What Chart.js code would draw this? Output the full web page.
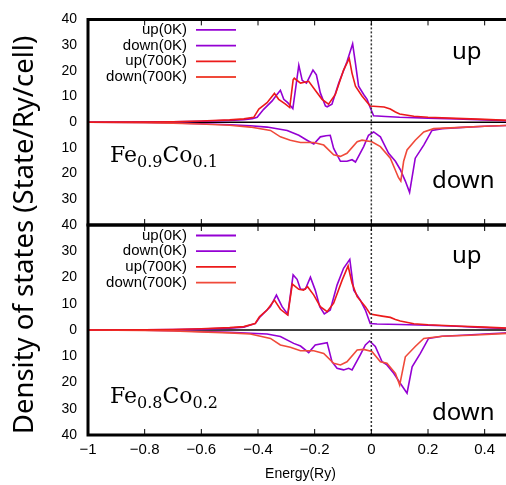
<!DOCTYPE html>
<html><head><meta charset="utf-8">
<script src="https://cdn.jsdelivr.net/npm/chart.js@4/dist/chart.umd.min.js"></script>
<style>
html,body{margin:0;padding:0;background:#fff;overflow:hidden;}
#wrap{position:relative;width:506px;height:485px;overflow:hidden;background:#fff;}
canvas{position:absolute;left:0;top:0;}
</style></head><body>
<div id="wrap"><canvas id="c1" width="520" height="485"></canvas><canvas id="c2" width="520" height="485"></canvas></div>
<script>
// ---------- tick labels / names ----------
const xTickVals = [-1, -0.8, -0.6, -0.4, -0.2, 0, 0.2, 0.4];
const yTickVals = [-40, -30, -20, -10, 0, 10, 20, 30, 40];
const seriesNames = ['up(0K)', 'down(0K)', 'up(700K)', 'down(700K)'];
const seriesColors = ['#9400d3', '#9400d3', '#ec1a1a', '#f04a3a'];
const panelNames = [['Fe','0.9','Co','0.1'], ['Fe','0.8','Co','0.2']];

// ---------- Fe0.9Co0.1 ----------
const a_up0_E = [-1,-0.8,-0.7,-0.6,-0.5,-0.45,-0.42,-0.403,-0.38,-0.35,-0.335,-0.321,-0.309,-0.295,-0.277,-0.256,-0.244,-0.229,-0.206,-0.194,-0.18,-0.162,-0.156,-0.139,-0.115,-0.086,-0.066,-0.056,-0.045,-0.027,-0.015,-0.004,0.008,0.05,0.1,0.2,0.3,0.4,0.5];
const a_up0_V = [0,0.05,0.15,0.35,0.7,1.0,1.4,1.9,5.0,8.3,10.5,12.4,8.9,7.6,5.3,22.2,16.3,15.2,20.3,18.4,11.4,6.3,6.0,7.0,15.2,23.5,30.5,22.9,14.0,10.8,8.9,5.7,2.5,2.2,1.9,1.6,1.3,0.9,0.5];
const a_dn0_E = [-1,-0.8,-0.7,-0.603,-0.5,-0.427,-0.368,-0.297,-0.256,-0.227,-0.203,-0.18,-0.16,-0.145,-0.133,-0.109,-0.086,-0.068,-0.056,-0.027,-0.01,0.008,0.032,0.061,0.085,0.102,0.12,0.135,0.155,0.185,0.214,0.25,0.338,0.4,0.5];
const a_dn0_V = [0,-0.1,-0.3,-0.6,-1.0,-1.4,-1.9,-3.2,-5.1,-7.0,-8.5,-5.7,-5.3,-5.1,-10.2,-15.2,-15.2,-14.6,-15.5,-9.5,-5.1,-3.8,-5.7,-12.1,-15.2,-18.4,-22.9,-27.3,-14.0,-8.9,-3.2,-2.5,-1.9,-1.6,-1.2];
const a_up7_E = [-1,-0.8,-0.7,-0.6,-0.5,-0.45,-0.415,-0.397,-0.368,-0.342,-0.327,-0.303,-0.288,-0.276,-0.272,-0.25,-0.221,-0.198,-0.174,-0.151,-0.127,-0.098,-0.078,-0.068,-0.056,-0.033,-0.004,0.02,0.045,0.067,0.085,0.10,0.15,0.2,0.3,0.4,0.5];
const a_up7_V = [0,0.08,0.2,0.45,0.9,1.3,1.9,5.1,7.6,11.2,8.9,7.0,5.7,16.5,17.1,15.2,15.9,12.4,8.9,7.0,10.8,20.3,24.8,19.0,14.0,10.2,6.3,6.1,5.9,5.1,4.0,3.2,2.3,1.9,1.5,1.1,0.6];
const a_dn7_E = [-1,-0.8,-0.7,-0.603,-0.5,-0.427,-0.356,-0.321,-0.286,-0.25,-0.203,-0.168,-0.133,-0.109,-0.086,-0.05,-0.033,0.002,0.032,0.067,0.096,0.104,0.114,0.126,0.155,0.185,0.22,0.3,0.4,0.5];
const a_dn7_V = [0,-0.15,-0.35,-0.7,-1.2,-1.9,-3.2,-5.7,-7.0,-7.9,-7.9,-8.9,-12.7,-13.3,-12.1,-7.6,-7.0,-7.6,-9.5,-14.0,-21.6,-22.9,-15.2,-10.8,-7.0,-3.8,-2.5,-2.1,-1.6,-1.2];

// ---------- Fe0.8Co0.2 ----------
const b_up0_E = [-1,-0.8,-0.7,-0.6,-0.5,-0.45,-0.409,-0.392,-0.356,-0.335,-0.315,-0.295,-0.276,-0.262,-0.25,-0.233,-0.215,-0.198,-0.182,-0.166,-0.145,-0.121,-0.098,-0.076,-0.062,-0.039,-0.021,-0.004,0.02,0.1,0.2,0.3,0.4,0.5];
const b_up0_V = [0,0.05,0.15,0.35,0.7,1.1,2.5,5.1,8.9,13.3,8.9,6.0,21.0,19.3,15.5,15.5,20.1,15.2,8.9,6.1,7.6,17.1,23.5,26.9,15.2,11.4,7.6,2.5,2.3,2.1,1.8,1.4,0.9,0.5];
const b_dn0_E = [-1,-0.8,-0.7,-0.603,-0.5,-0.368,-0.321,-0.274,-0.25,-0.221,-0.198,-0.156,-0.139,-0.121,-0.098,-0.08,-0.068,-0.039,-0.021,-0.006,0.014,0.038,0.055,0.079,0.102,0.126,0.144,0.173,0.202,0.25,0.338,0.4,0.5];
const b_dn0_V = [0,-0.1,-0.3,-0.6,-0.9,-1.5,-2.5,-5.1,-6.1,-8.6,-5.7,-4.8,-12.1,-14.6,-15.2,-14.6,-15.2,-9.5,-5.7,-4.2,-6.3,-12.1,-13.3,-16.5,-20.3,-24.1,-14.0,-8.9,-3.2,-2.4,-1.9,-1.5,-1.0];
const b_up7_E = [-1,-0.8,-0.7,-0.6,-0.5,-0.45,-0.41,-0.395,-0.368,-0.342,-0.321,-0.295,-0.279,-0.256,-0.239,-0.225,-0.203,-0.18,-0.156,-0.133,-0.103,-0.082,-0.068,-0.05,-0.021,-0.004,0.038,0.067,0.085,0.102,0.15,0.2,0.3,0.4,0.5];
const b_up7_V = [0,0.08,0.2,0.45,0.9,1.3,2.5,5.0,7.6,11.4,7.9,5.7,17.5,15.5,15.2,16.5,13.3,8.9,7.0,10.2,19.0,24.4,17.8,12.7,8.9,6.1,5.3,4.8,4.0,3.4,2.4,2.0,1.5,1.1,0.6];
const b_dn7_E = [-1,-0.8,-0.7,-0.603,-0.5,-0.427,-0.356,-0.321,-0.286,-0.25,-0.203,-0.168,-0.133,-0.109,-0.086,-0.05,-0.027,0.002,0.032,0.055,0.085,0.10,0.12,0.155,0.185,0.25,0.35,0.5];
const b_dn7_V = [0,-0.15,-0.35,-0.7,-1.1,-1.5,-3.2,-5.7,-6.6,-7.9,-7.9,-8.9,-12.7,-13.3,-12.1,-7.6,-7.4,-8.2,-12.1,-12.7,-16.5,-21.0,-10.2,-6.3,-3.2,-2.4,-2.0,-1.2];

function pts(E, V) { return E.map((e, i) => ({x: e, y: V[i]})); }
function mkDs(list) {
  return list.map((p, i) => ({
    label: seriesNames[i], data: pts(p[0], p[1]),
    borderColor: seriesColors[i], borderWidth: 1.6, pointRadius: 0,
    fill: false, tension: 0, order: i < 2 ? 2 : 1
  }));
}
function fmt(v) { const r = Math.round(v * 10) / 10; return r < 0 ? '\u2212' + Math.abs(r) : String(r); }

function drawChem(ctx, x, y, parts) {
  ctx.save();
  ctx.fillStyle = '#000';
  ctx.textAlign = 'left'; ctx.textBaseline = 'alphabetic';
  parts.forEach((t, i) => {
    const sub = i % 2 === 1;
    ctx.font = sub ? '16px "DejaVu Serif"' : '22px "DejaVu Serif"';
    ctx.fillText(t, x, sub ? y + 5 : y);
    x += ctx.measureText(t).width;
  });
  ctx.restore();
}

const panelDeco = {
  id: 'panelDeco',
  beforeDatasetsDraw(chart) {
    const {ctx, chartArea: a, scales: {y}} = chart;
    const y0 = y.getPixelForValue(0);
    ctx.save();
    ctx.strokeStyle = '#000'; ctx.lineWidth = 1.5;
    ctx.beginPath(); ctx.moveTo(a.left, y0); ctx.lineTo(a.right, y0); ctx.stroke();
    ctx.restore();
  },
  afterDatasetsDraw(chart) {
    const {ctx, chartArea: a, scales: {x}} = chart;
    const x0 = x.getPixelForValue(0);
    ctx.save();
    ctx.setLineDash([2, 2]); ctx.strokeStyle = '#333'; ctx.lineWidth = 1.5;
    ctx.beginPath(); ctx.moveTo(x0, a.top); ctx.lineTo(x0, a.bottom); ctx.stroke();
    ctx.restore();
  },
  afterDraw(chart, args, o) {
    const {ctx, chartArea: a, scales: {x}} = chart;
    ctx.save();
    // frame
    ctx.strokeStyle = '#000'; ctx.lineWidth = 3;
    ctx.beginPath();
    ctx.moveTo(a.right + 5, a.top); ctx.lineTo(a.left, a.top); ctx.lineTo(a.left, a.bottom); ctx.lineTo(a.right + 5, a.bottom);
    ctx.stroke();
    // inward x ticks
    ctx.lineWidth = 1;
    xTickVals.forEach(v => {
      const px = x.getPixelForValue(v);
      ctx.beginPath(); ctx.moveTo(px, a.top); ctx.lineTo(px, a.top + 6);
      ctx.moveTo(px, a.bottom); ctx.lineTo(px, a.bottom - 6); ctx.stroke();
    });
    // legend
    ctx.font = '15px "Liberation Sans"';
    ctx.textAlign = 'right'; ctx.textBaseline = 'middle'; ctx.fillStyle = '#000';
    seriesNames.forEach((n, i) => {
      const yy = a.top + 10.5 + i * 15.7;
      ctx.fillText(n, 187, yy);
      ctx.strokeStyle = seriesColors[i]; ctx.lineWidth = 1.8;
      ctx.beginPath(); ctx.moveTo(196, yy); ctx.lineTo(236, yy); ctx.stroke();
    });
    // up / down
    ctx.font = '24px "Noto Sans"'; ctx.textAlign = 'left'; ctx.textBaseline = 'alphabetic';
    ctx.fillText('up', 452, a.top + o.upY);
    ctx.fillText('down', 432, a.top + o.downY);
    drawChem(ctx, 110, a.top + o.chemY, o.chem);
    if (o.yTitle) {
      ctx.translate(25, 235); ctx.rotate(-Math.PI / 2);
      ctx.font = '27.5px "Noto Sans"'; ctx.textAlign = 'center'; ctx.textBaseline = 'middle';
      ctx.fillText(o.yTitle, 0, 0);
    }
    ctx.restore();
  }
};

function makeChart(id, ds, deco, isBottom) {
  return new Chart(document.getElementById(id), {
    type: 'line',
    data: {datasets: ds},
    options: {
      responsive: false, animation: false, devicePixelRatio: 1, events: [],
      layout: {padding: {left: 0, right: 7, top: isBottom ? 225 : 15, bottom: isBottom ? 0 : 260}},
      plugins: {legend: {display: false}, tooltip: {enabled: false}, panelDeco: deco},
      scales: {
        x: {
          type: 'linear', min: -1, max: 0.5, display: isBottom,
          grid: {display: false, drawTicks: false}, border: {display: false},
          afterBuildTicks: s => { s.ticks = xTickVals.map(v => ({value: v})); },
          ticks: {padding: 6, maxRotation: 0, autoSkip: false, color: '#000',
                  font: {family: 'Liberation Sans', size: 15}, callback: v => fmt(v)},
          title: {display: true, text: 'Energy(Ry)', color: '#000',
                  font: {family: 'Liberation Sans', size: 14}, padding: {top: 0, bottom: 2}},
          afterFit: s => { s.height = isBottom ? 50 : 0; }
        },
        y: {
          type: 'linear', min: -40, max: 40,
          grid: {display: false, drawTicks: false}, border: {display: false},
          afterBuildTicks: s => { s.ticks = yTickVals.map(v => ({value: v})); },
          ticks: {padding: 11, autoSkip: false, color: '#000',
                  font: {family: 'Liberation Sans', size: 14},
                  callback: v => (!isBottom && v === -40) ? '' : String(Math.abs(v))},
          afterFit: s => { s.width = 88; }
        }
      }
    },
    plugins: [panelDeco]
  });
}

makeChart('c1', mkDs([[a_up0_E, a_up0_V], [a_dn0_E, a_dn0_V], [a_up7_E, a_up7_V], [a_dn7_E, a_dn7_V]]),
  {upY: 40, downY: 169, chemY: 143, chem: panelNames[0], yTitle: 'Density of states (State/Ry/cell)'}, false);
makeChart('c2', mkDs([[b_up0_E, b_up0_V], [b_dn0_E, b_dn0_V], [b_up7_E, b_up7_V], [b_dn7_E, b_dn7_V]]),
  {upY: 38, downY: 195, chemY: 178, chem: panelNames[1]}, true);
</script>
</body></html>
